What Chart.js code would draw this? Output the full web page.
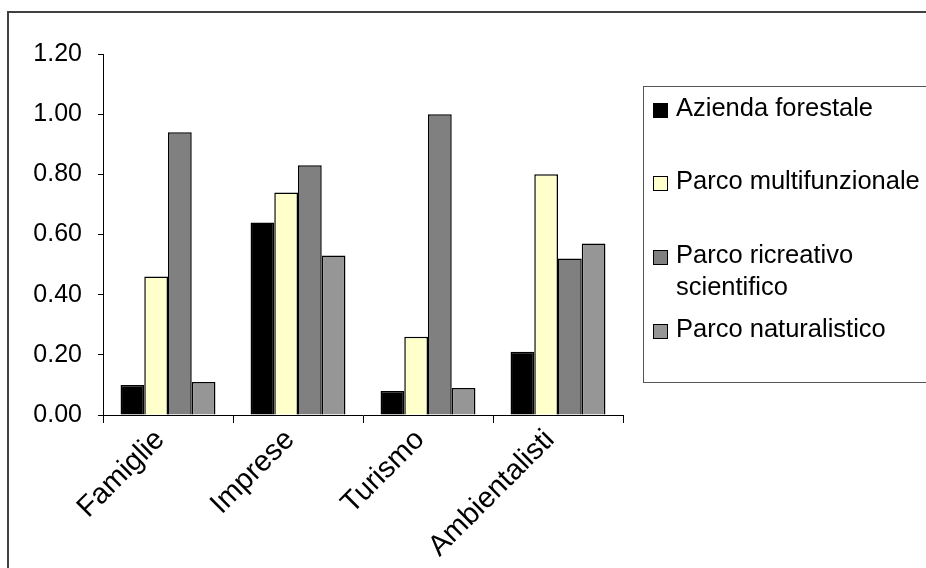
<!DOCTYPE html>
<html>
<head>
<meta charset="utf-8">
<script src="https://cdn.jsdelivr.net/npm/chart.js@4.4.1/dist/chart.umd.min.js"></script>
<style>
  html, body { margin: 0; padding: 0; background: #fff; }
  canvas { display: block; }
</style>
</head>
<body>
<canvas id="chart" width="926" height="568"></canvas>
<script>
// Categories (stakeholder groups) and the four park scenarios
const categories = ['Famiglie', 'Imprese', 'Turismo', 'Ambientalisti'];
const seriesNames = ['Azienda forestale', 'Parco multifunzionale', 'Parco ricreativo scientifico', 'Parco naturalistico'];
const aziendaForestale = [0.10, 0.64, 0.08, 0.21];
const parcoMultifunzionale = [0.46, 0.74, 0.26, 0.80];
const parcoRicreativoScientifico = [0.94, 0.83, 1.00, 0.52];
const parcoNaturalistico = [0.11, 0.53, 0.09, 0.57];
const yTickValues = [0.00, 0.20, 0.40, 0.60, 0.80, 1.00, 1.20];

const FONT = '"Liberation Sans", Arial, sans-serif';
const seriesColors = ['#000000', '#FFFFCC', '#808080', '#969696'];
const seriesValues = [aziendaForestale, parcoMultifunzionale, parcoRicreativoScientifico, parcoNaturalistico];

Chart.defaults.font.family = FONT;
Chart.defaults.color = '#000';

function wrapText(ctx, text, maxWidth) {
  const words = text.split(' ');
  const lines = [];
  let line = '';
  words.forEach(w => {
    const test = line ? line + ' ' + w : w;
    if (line && ctx.measureText(test).width > maxWidth) {
      lines.push(line);
      line = w;
    } else {
      line = test;
    }
  });
  if (line) lines.push(line);
  return lines;
}

// Page frame and the boxed legend on the right
const frameAndLegend = {
  id: 'frameAndLegend',
  beforeDraw(chart) {
    const ctx = chart.ctx;
    ctx.save();
    ctx.fillStyle = '#fff';
    ctx.fillRect(0, 0, chart.width, chart.height);
    ctx.restore();
  },
  afterDraw(chart, args, opts) {
    const ctx = chart.ctx;
    ctx.save();
    ctx.strokeStyle = '#404040';
    ctx.lineWidth = 2;
    ctx.strokeRect(8, 12, 1200, 1200);

    ctx.strokeStyle = '#555';
    ctx.lineWidth = 1;
    ctx.strokeRect(643.5, 86.5, 400, 296);

    ctx.font = opts.fontSize + 'px ' + FONT;
    ctx.textBaseline = 'middle';
    chart.data.datasets.forEach((ds, i) => {
      const y = opts.rowY[i];
      ctx.fillStyle = ds.backgroundColor;
      ctx.fillRect(653, y - 6, 15, 15);
      ctx.strokeStyle = '#000';
      ctx.lineWidth = 1;
      ctx.strokeRect(653.5, y - 5.5, 14, 14);
      ctx.fillStyle = '#000';
      wrapText(ctx, ds.label, 262).forEach((ln, j) => {
        ctx.fillText(ln, 676, y + j * opts.lineHeight);
      });
    });
    ctx.restore();
  }
};

new Chart(document.getElementById('chart'), {
  type: 'bar',
  data: {
    labels: categories,
    datasets: seriesNames.map((name, i) => ({
      label: name,
      data: seriesValues[i],
      backgroundColor: seriesColors[i],
      borderColor: '#000',
      borderWidth: 1.5,
      categoryPercentage: 0.73,
      barPercentage: 1.0
    }))
  },
  options: {
    responsive: false,
    animation: false,
    layout: { padding: { left: 0, right: 303, top: 54, bottom: 0 } },
    plugins: {
      legend: { display: false },
      tooltip: { enabled: false },
      frameAndLegend: { fontSize: 25.5, lineHeight: 32, rowY: [109, 182, 256, 330] }
    },
    scales: {
      x: {
        grid: { display: true, drawOnChartArea: false, tickLength: 8, color: '#000', lineWidth: 1 },
        border: { color: '#000', width: 1 },
        ticks: { autoSkip: false, maxRotation: 45, minRotation: 45, color: '#000', font: { size: 29 }, padding: 0, labelOffset: -8 },
        afterFit(scale) { scale.height = 568 - 415; }
      },
      y: {
        min: 0,
        max: 1.2,
        afterBuildTicks(scale) { scale.ticks = yTickValues.map(v => ({ value: v })); },
        grid: { display: true, drawOnChartArea: false, tickLength: 5, color: '#000', lineWidth: 1 },
        border: { color: '#000', width: 1 },
        ticks: { color: '#000', font: { size: 25 }, padding: 16, callback: v => Number(v).toFixed(2) },
        afterFit(scale) { scale.width = 103; }
      }
    }
  },
  plugins: [frameAndLegend]
});
</script>
</body>
</html>
